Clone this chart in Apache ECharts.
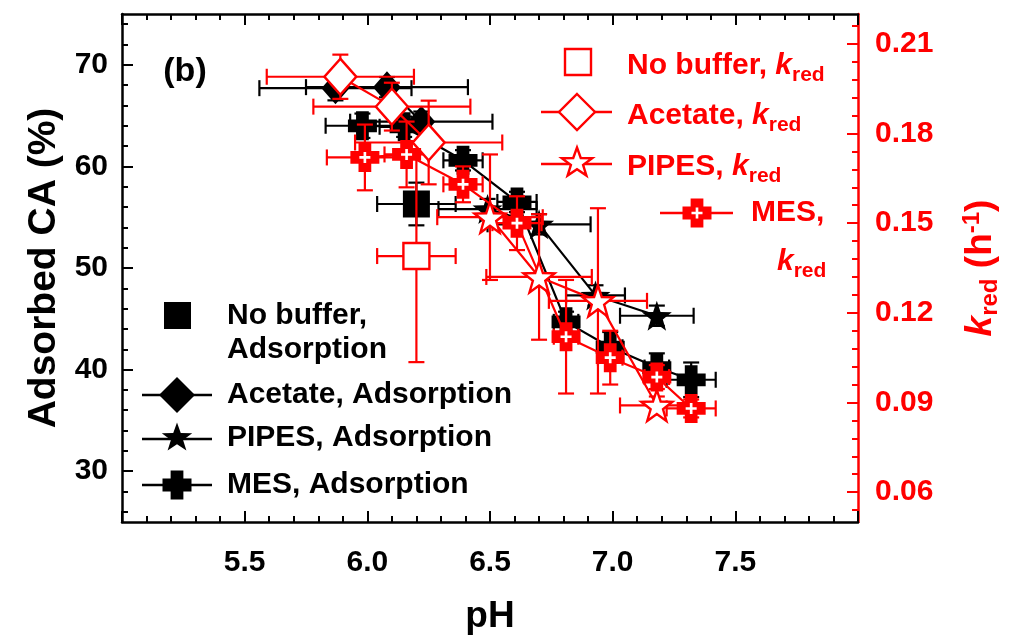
<!DOCTYPE html>
<html><head><meta charset="utf-8">
<script src="https://cdn.jsdelivr.net/npm/echarts@6/dist/echarts.min.js"></script>
<style>html,body{margin:0;padding:0;background:#fff}#c{width:1010px;height:640px}</style>
</head><body><div id="c"></div>
<script>
// ---------- tick labels ----------
const xTickLabels = ['5.5', '6.0', '6.5', '7.0', '7.5'];
const leftTickLabels = [30, 40, 50, 60, 70];
const leftMinorTicks = [26, 28, 32, 34, 36, 38, 42, 44, 46, 48, 52, 54, 56, 58, 62, 64, 66, 68, 72, 74];
const rightTickLabels = [0.06, 0.09, 0.12, 0.15, 0.18, 0.21];
const rightMinorTicks = [0.054, 0.066, 0.072, 0.078, 0.084, 0.096, 0.102, 0.108, 0.114, 0.126, 0.132, 0.138, 0.144,
  0.156, 0.162, 0.168, 0.174, 0.186, 0.192, 0.198, 0.204, 0.216];

// ---------- Adsorbed CA (%) — left axis ----------
const noBufAdsPH = [6.20];
const noBufAds = [56.3];
const noBufAdsXErr = [0.16];
const noBufAdsYErr = [2.1];

const acetateAdsPH = [5.87, 6.08, 6.22];
const acetateAds = [67.7, 67.8, 64.4];
const acetateAdsXErr = [0.31, 0.33, 0.29];
const acetateAdsYErr = [1.2, 1.0, 1.0];

const pipesAdsPH = [6.49, 6.70, 6.93, 7.18];
const pipesAds = [55.8, 54.3, 47.3, 45.3];
const pipesAdsXErr = [0.20, 0.21, 0.12, 0.15];
const pipesAdsYErr = [1.0, 1.0, 1.0, 1.0];

const mesAdsPH = [5.98, 6.15, 6.39, 6.61, 6.81, 6.99, 7.18, 7.32];
const mesAds = [64.0, 63.9, 60.6, 56.5, 44.7, 42.2, 40.2, 39.0];
const mesAdsXErr = [0.15, 0.10, 0.08, 0.08, 0.05, 0.05, 0.05, 0.10];
const mesAdsYErr = [1.2, 1.0, 1.0, 1.0, 1.0, 1.5, 1.4, 1.7];

// ---------- k_red (h^-1) — right axis ----------
const noBufKPH = [6.20];
const noBufK = [0.139];
const noBufKXErr = [0.16];
const noBufKYErr = [0.0355];

const acetateKPH = [5.89, 6.10, 6.25];
const acetateK = [0.199, 0.189, 0.177];
const acetateKXErr = [0.30, 0.32, 0.30];
const acetateKYErr = [0.0074, 0.008, 0.014];

const pipesKPH = [6.50, 6.70, 6.94, 7.18];
const pipesK = [0.152, 0.132, 0.124, 0.089];
const pipesKXErr = [0.215, 0.215, 0.20, 0.15];
const pipesKYErr = [0.021, 0.021, 0.031, 0.003];

const mesKPH = [5.99, 6.16, 6.39, 6.61, 6.81, 6.99, 7.18, 7.32];
const mesK = [0.172, 0.173, 0.163, 0.150, 0.112, 0.105, 0.0985, 0.088];
const mesKXErr = [0.155, 0.09, 0.08, 0.10, 0.05, 0.05, 0.05, 0.10];
const mesKYErr = [0.011, 0.011, 0.006, 0.009, 0.019, 0.009, 0.004, 0.003];

// ---------- helpers ----------
const RED = '#ff0000', BLACK = '#000000';
const FONT = '"Liberation Sans", Arial, sans-serif';
const STAR = 'path://M50 0 L61.76 33.82 L97.55 34.55 L69.02 56.18 L79.39 90.45 L50 70 L20.61 90.45 L30.98 56.18 L2.45 34.55 L38.24 33.82 Z';
const PLUS = 'path://M28 0 H72 V28 H100 V72 H72 V100 H28 V72 H0 V28 H28 Z';
const THINPLUS = 'path://M38 0 H62 V38 H100 V62 H62 V100 H38 V62 H0 V38 H38 Z';

function pts(xs, ys) { return xs.map((x, i) => [x, ys[i]]); }
function errPts(xs, ys, xe, ye) { return xs.map((x, i) => [x, ys[i], xe[i], ye[i]]); }

function errSeries(name, data, color, yIdx, z) {
  return {
    name: name, type: 'custom', yAxisIndex: yIdx, z: z, silent: true,
    dimensions: ['x', 'y', 'xe', 'ye'], encode: { x: 0, y: 1 },
    data: data,
    renderItem: function (params, api) {
      const x = api.value(0), y = api.value(1), xe = api.value(2), ye = api.value(3);
      const l = api.coord([x - xe, y]), r = api.coord([x + xe, y]);
      const t = api.coord([x, y + ye]), b = api.coord([x, y - ye]);
      const h = 8, st = { stroke: color, lineWidth: 2.2 };
      const ch = [];
      if (xe > 0) {
        ch.push({ type: 'line', shape: { x1: l[0], y1: l[1], x2: r[0], y2: r[1] }, style: st });
        ch.push({ type: 'line', shape: { x1: l[0], y1: l[1] - h, x2: l[0], y2: l[1] + h }, style: st });
        ch.push({ type: 'line', shape: { x1: r[0], y1: r[1] - h, x2: r[0], y2: r[1] + h }, style: st });
      }
      if (ye > 0) {
        ch.push({ type: 'line', shape: { x1: t[0], y1: t[1], x2: b[0], y2: b[1] }, style: st });
        ch.push({ type: 'line', shape: { x1: t[0] - h, y1: t[1], x2: t[0] + h, y2: t[1] }, style: st });
        ch.push({ type: 'line', shape: { x1: b[0] - h, y1: b[1], x2: b[0] + h, y2: b[1] }, style: st });
      }
      return { type: 'group', children: ch };
    }
  };
}

function lineSeries(name, data, yIdx, z, symbol, size, fill, stroke, bw, showLine) {
  return {
    name: name, type: showLine ? 'line' : 'scatter', yAxisIndex: yIdx, z: z, data: data,
    symbol: symbol, symbolSize: size, showSymbol: true,
    lineStyle: { color: stroke, width: 2.2 },
    itemStyle: { color: fill, borderColor: stroke, borderWidth: bw, opacity: 1 },
    emphasis: { disabled: true }, silent: true, animation: false
  };
}

const series = [
  errSeries('e1', errPts(noBufAdsPH, noBufAds, noBufAdsXErr, noBufAdsYErr), BLACK, 0, 1),
  errSeries('e2', errPts(acetateAdsPH, acetateAds, acetateAdsXErr, acetateAdsYErr), BLACK, 0, 1),
  errSeries('e3', errPts(pipesAdsPH, pipesAds, pipesAdsXErr, pipesAdsYErr), BLACK, 0, 1),
  errSeries('e4', errPts(mesAdsPH, mesAds, mesAdsXErr, mesAdsYErr), BLACK, 0, 1),
  lineSeries('No buffer, Adsorption', pts(noBufAdsPH, noBufAds), 0, 2, 'rect', 27, BLACK, BLACK, 0, false),
  lineSeries('Acetate, Adsorption', pts(acetateAdsPH, acetateAds), 0, 2, 'diamond', [28, 32], BLACK, BLACK, 0, true),
  lineSeries('PIPES, Adsorption', pts(pipesAdsPH, pipesAds), 0, 2, STAR, 30, BLACK, BLACK, 0, true),
  lineSeries('MES, Adsorption', pts(mesAdsPH, mesAds), 0, 2, PLUS, 29, BLACK, BLACK, 0, true),
  errSeries('e5', errPts(noBufKPH, noBufK, noBufKXErr, noBufKYErr), RED, 1, 3),
  errSeries('e6', errPts(acetateKPH, acetateK, acetateKXErr, acetateKYErr), RED, 1, 3),
  errSeries('e7', errPts(pipesKPH, pipesK, pipesKXErr, pipesKYErr), RED, 1, 3),
  errSeries('e8', errPts(mesKPH, mesK, mesKXErr, mesKYErr), RED, 1, 3),
  lineSeries('No buffer, kred', pts(noBufKPH, noBufK), 1, 4, 'rect', 26, '#fff', RED, 2.4, false),
  lineSeries('Acetate, kred', pts(acetateKPH, acetateK), 1, 4, 'diamond', [32, 36], '#fff', RED, 2.4, true),
  lineSeries('PIPES, kred', pts(pipesKPH, pipesK), 1, 4, STAR, 31, '#fff', RED, 2.4, true),
  lineSeries('MES, kred', pts(mesKPH, mesK), 1, 4, PLUS, 29, RED, RED, 0, true),
  lineSeries('MES, kred hole', pts(mesKPH, mesK), 1, 5, THINPLUS, 11, '#fff', '#fff', 0, false)
];

const tickFont = { color: BLACK, fontSize: 30, fontWeight: 'bold', fontFamily: FONT };

const option = {
  animation: false,
  backgroundColor: '#fff',
  grid: { left: 122, right: 150, top: 14, bottom: 118, containLabel: false },
  xAxis: [
    {
      type: 'value', min: 5, max: 8, interval: 0.5, position: 'bottom',
      axisLine: { show: true, onZero: false, lineStyle: { color: BLACK, width: 2.5 } },
      axisTick: { show: true, inside: true, length: 11, lineStyle: { width: 2, color: BLACK } },
      minorTick: { show: true, splitNumber: 5, length: 6, lineStyle: { width: 2, color: BLACK } },
      splitLine: { show: false }, minorSplitLine: { show: false },
      axisLabel: Object.assign({ margin: 26, showMinLabel: false, showMaxLabel: false,
        formatter: v => { const s = v.toFixed(1); return xTickLabels.indexOf(s) >= 0 ? s : ''; } }, tickFont),
      name: 'pH', nameLocation: 'middle', nameGap: 76,
      nameTextStyle: { color: BLACK, fontSize: 37, fontWeight: 'bold', fontFamily: FONT }
    },
    {
      type: 'value', min: 5, max: 8, interval: 0.5, position: 'top',
      axisLine: { show: true, onZero: false, lineStyle: { color: BLACK, width: 2.5 } },
      axisTick: { show: true, inside: true, length: 11, lineStyle: { width: 2, color: BLACK } },
      minorTick: { show: true, splitNumber: 5, length: 6, lineStyle: { width: 2, color: BLACK } },
      splitLine: { show: false }, axisLabel: { show: false }
    }
  ],
  yAxis: [
    {
      type: 'value', min: 25, max: 75, position: 'left',
      axisLine: { show: true, onZero: false, lineStyle: { color: BLACK, width: 2.5 } },
      axisTick: { show: true, inside: true, length: 11, customValues: leftTickLabels, lineStyle: { width: 2, color: BLACK } },
      axisLabel: Object.assign({ margin: 14, customValues: leftTickLabels }, tickFont),
      splitLine: { show: false },
      name: 'Adsorbed CA (%)', nameLocation: 'middle', nameGap: 54, nameRotate: 90,
      nameTextStyle: { color: BLACK, fontSize: 39, fontWeight: 'bold', fontFamily: FONT }
    },
    {
      type: 'value', min: 0.05, max: 0.22, position: 'right',
      axisLine: { show: true, onZero: false, lineStyle: { color: RED, width: 2.5 } },
      axisTick: { show: true, inside: true, length: 11, customValues: rightTickLabels, lineStyle: { width: 2, color: RED } },
      axisLabel: Object.assign({}, tickFont, { color: RED, margin: 17, customValues: rightTickLabels, formatter: v => v.toFixed(2) }),
      splitLine: { show: false },
      name: '{k|k}{s|red}{n| (h}{p|-1}{n|)}', nameLocation: 'middle', nameGap: 102, nameRotate: 90,
      nameTextStyle: {
        color: RED, fontSize: 36, fontWeight: 'bold', fontFamily: FONT,
        rich: {
          k: { color: RED, fontSize: 37, fontWeight: 'bold', fontStyle: 'italic', fontFamily: FONT, lineHeight: 42, verticalAlign: 'middle' },
          s: { color: RED, fontSize: 24, fontWeight: 'bold', fontFamily: FONT, padding: [18, 0, 0, 0], verticalAlign: 'middle' },
          n: { color: RED, fontSize: 37, fontWeight: 'bold', fontFamily: FONT, lineHeight: 42, verticalAlign: 'middle' },
          p: { color: RED, fontSize: 24, fontWeight: 'bold', fontFamily: FONT, padding: [0, 0, 18, 0], verticalAlign: 'middle' }
        }
      }
    },
    {
      type: 'value', min: 25, max: 75, position: 'left',
      axisLine: { show: false },
      axisTick: { show: true, inside: true, length: 6, customValues: leftMinorTicks, lineStyle: { width: 2, color: BLACK } },
      axisLabel: { show: false }, splitLine: { show: false }
    },
    {
      type: 'value', min: 0.05, max: 0.22, position: 'right',
      axisLine: { show: false },
      axisTick: { show: true, inside: true, length: 6, customValues: rightMinorTicks, lineStyle: { width: 2, color: RED } },
      axisLabel: { show: false }, splitLine: { show: false }
    }
  ],
  series: series,
  graphic: []
};

// ---------- legends (graphic) ----------
function txt(x, y, text, color, rich, align) {
  return {
    type: 'text', x: x, y: y, z: 100, silent: true,
    style: { text: text, fill: color, font: 'bold 30px ' + FONT, align: align || 'left', verticalAlign: 'middle', rich: rich }
  };
}
function hline(x1, x2, y, color) {
  return { type: 'line', z: 99, silent: true, shape: { x1: x1, y1: y, x2: x2, y2: y }, style: { stroke: color, lineWidth: 2.4 } };
}
const starP = [[50, 0], [61.76, 33.82], [97.55, 34.55], [69.02, 56.18], [79.39, 90.45], [50, 70], [20.61, 90.45], [30.98, 56.18], [2.45, 34.55], [38.24, 33.82]];
const plusP = [[28, 0], [72, 0], [72, 28], [100, 28], [100, 72], [72, 72], [72, 100], [28, 100], [28, 72], [0, 72], [0, 28], [28, 28]];
const thinPlusP = [[38, 0], [62, 0], [62, 38], [100, 38], [100, 62], [62, 62], [62, 100], [38, 100], [38, 62], [0, 62], [0, 38], [38, 38]];
function polyAt(p, cx, cy, w, h, fill, stroke, lw) {
  return { type: 'polygon', z: 100, silent: true,
    shape: { points: p.map(q => [cx - w / 2 + q[0] * w / 100, cy - h / 2 + q[1] * h / 100]) },
    style: { fill: fill, stroke: stroke || null, lineWidth: lw || 0 } };
}
const richK = {
  k: { fill: RED, color: RED, fontStyle: 'italic', fontWeight: 'bold', fontSize: 30, fontFamily: FONT, lineHeight: 34, verticalAlign: 'middle' },
  s: { fill: RED, color: RED, fontWeight: 'bold', fontSize: 21, fontFamily: FONT, padding: [19, 0, 0, 0], verticalAlign: 'middle' },
  n: { fill: RED, color: RED, fontWeight: 'bold', fontSize: 30, fontFamily: FONT, lineHeight: 34, verticalAlign: 'middle' }
};

option.graphic = [
  { type: 'text', x: 185, y: 72, z: 100, style: { text: '(b)', fill: BLACK, font: 'bold 34px ' + FONT, align: 'center', verticalAlign: 'middle' } },
  // red legend
  { type: 'rect', z: 100, shape: { x: 565, y: 49, width: 26, height: 26 }, style: { fill: '#fff', stroke: RED, lineWidth: 2.4 } },
  txt(627, 66, '{n|No buffer, }{k|k}{s|red}', RED, richK),
  hline(541, 612, 112, RED),
  polyAt([[50, 0], [100, 50], [50, 100], [0, 50]], 577, 112, 36, 36, '#fff', RED, 2.4),
  txt(627, 116, '{n|Acetate, }{k|k}{s|red}', RED, richK),
  hline(541, 612, 164, RED),
  polyAt(starP, 577, 163, 32, 31, '#fff', RED, 2.4),
  txt(627, 167, '{n|PIPES, }{k|k}{s|red}', RED, richK),
  hline(660, 733, 213, RED),
  polyAt(plusP, 697, 213, 29, 29, RED),
  polyAt(thinPlusP, 697, 213, 11, 11, '#fff'),
  txt(751, 213, '{n|MES,}', RED, richK),
  txt(777, 262, '{k|k}{s|red}', RED, richK),
  // black legend
  { type: 'rect', z: 100, shape: { x: 164, y: 302, width: 27, height: 27 }, style: { fill: BLACK } },
  txt(227, 316, 'No buffer,', BLACK),
  txt(227, 350, 'Adsorption', BLACK),
  hline(142, 212, 395, BLACK),
  polyAt([[50, 0], [100, 50], [50, 100], [0, 50]], 177, 395, 36, 36, BLACK),
  txt(227, 395, 'Acetate, Adsorption', BLACK),
  hline(142, 212, 439, BLACK),
  polyAt(starP, 177, 438, 32, 31, BLACK),
  txt(227, 438, 'PIPES, Adsorption', BLACK),
  hline(142, 212, 485, BLACK),
  polyAt(plusP, 177, 485, 29, 29, BLACK),
  txt(227, 485, 'MES, Adsorption', BLACK)
];

const chart = echarts.init(document.getElementById('c'), null, { renderer: 'canvas' });
chart.setOption(option);
</script>
</body></html>
